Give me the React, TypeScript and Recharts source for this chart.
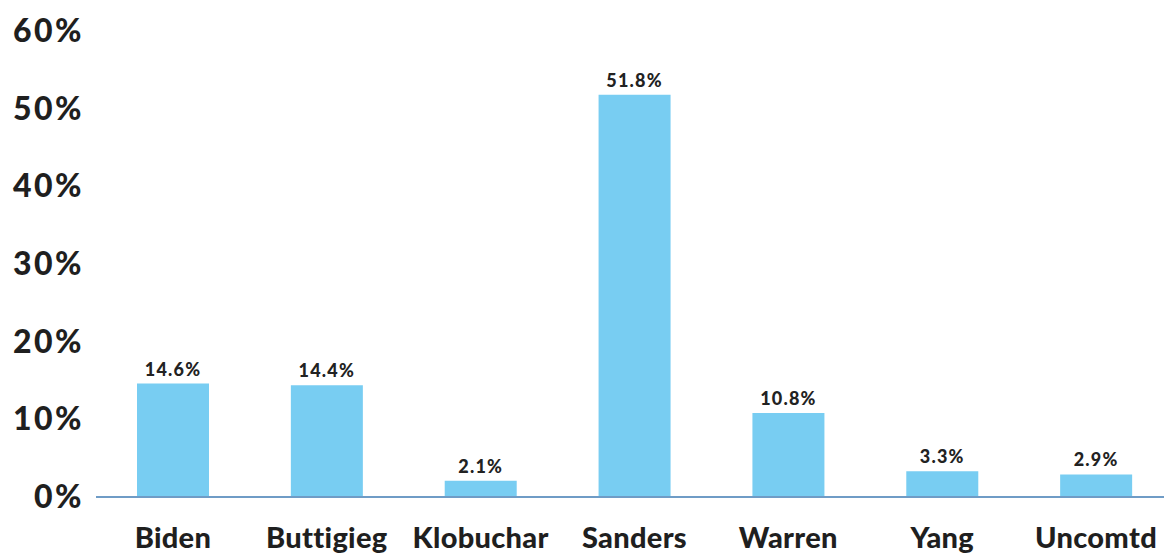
import React from "react";
import { BarChart, Bar, XAxis, YAxis, LabelList } from "recharts";

const categories = ["Biden", "Buttigieg", "Klobuchar", "Sanders", "Warren", "Yang", "Uncomtd"];
const shares = [14.6, 14.4, 2.1, 51.8, 10.8, 3.3, 2.9];
const yTicks = [0, 10, 20, 30, 40, 50, 60];

const data = categories.map((name, i) => ({ name, value: shares[i] }));

const FONT = "Lato, 'Open Sans', sans-serif";

const XTick = (props: any) => {
  const { x, y, payload } = props;
  return (
    <text x={x} y={y + 51} textAnchor="middle" fill="#1f1f1f" fontFamily={FONT} fontWeight={900} fontSize={29} letterSpacing={0.3}>
      {payload.value}
    </text>
  );
};

const YTick = (props: any) => {
  const { x, y, payload } = props;
  return (
    <text x={x} y={y} dy={11} textAnchor="end" fill="#1f1f1f" fontFamily={FONT} fontWeight={900} fontSize={32} letterSpacing={2.5}>
      {`${payload.value}%`}
    </text>
  );
};

export default function App() {
  return (
    <div style={{ position: "fixed", left: 0, top: 0, width: 1164, height: 554, overflow: "hidden", background: "#fff" }}>
      <BarChart width={1173} height={554} data={data} margin={{ top: 31, right: 0, bottom: 0, left: 0 }}>
        <XAxis
          dataKey="name"
          tickLine={false}
          tickSize={0}
          tickMargin={0}
          height={57}
          axisLine={{ stroke: "#6f9cc6", strokeWidth: 2 }}
          tick={<XTick />}
          interval={0}
        />
        <YAxis
          width={96}
          domain={[0, 60]}
          ticks={yTicks}
          tickLine={false}
          axisLine={false}
          tickMargin={6}
          tick={<YTick />}
        />
        <Bar dataKey="value" fill="#78cdf2" barSize={72} isAnimationActive={false}>
          <LabelList
            dataKey="value"
            position="top"
            offset={8}
            formatter={(v: number) => `${v.toFixed(1)}%`}
            style={{ fill: "#222", fontFamily: FONT, fontWeight: 900, fontSize: 18, letterSpacing: 1.2 }}
          />
        </Bar>
      </BarChart>
    </div>
  );
}
